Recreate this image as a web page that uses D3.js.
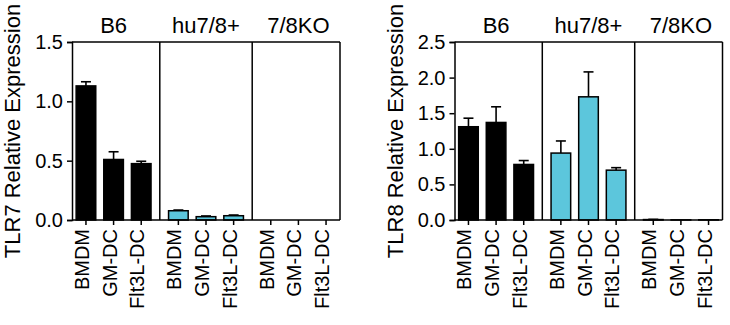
<!DOCTYPE html>
<html>
<head>
<meta charset="utf-8">
<script src="https://cdn.jsdelivr.net/npm/d3@7"></script>
<style>
  body { margin: 0; background: #fff; }
  svg { font-family: "Liberation Sans", Arial, sans-serif; }
</style>
</head>
<body>
<div id="drawing"></div>
<script>
const width = 730;
const height = 325;

// data
const groups = ["B6", "hu7/8+", "7/8KO"];
const cells = ["BMDM", "GM-DC", "Flt3L-DC"];
const groupOf = ["B6", "B6", "B6", "hu7/8+", "hu7/8+", "hu7/8+", "7/8KO", "7/8KO", "7/8KO"];
const tlr7Mean = [1.13, 0.51, 0.475, 0.078, 0.028, 0.036, 0, 0, 0];
const tlr7Err = [0.035, 0.065, 0.02, 0.006, 0.006, 0.006, 0, 0, 0];
const tlr8Mean = [1.31, 1.37, 0.78, 0.94, 1.73, 0.70, 0.006, 0.002, 0.003];
const tlr8Err = [0.12, 0.22, 0.055, 0.17, 0.35, 0.035, 0.003, 0, 0];
const tlr7Ticks = [0, 0.5, 1.0, 1.5];
const tlr8Ticks = [0, 0.5, 1.0, 1.5, 2.0, 2.5];

const black = "#000";
const cyan = "#5cc6dc";

let svg = d3.select("#drawing").append("svg")
  .attr("width", width)
  .attr("height", height);

function drawPanel(left, title, means, errs, yMax, yTicks) {
  const plotW = 268;
  const top = 42;
  const bottom = 220;

  const g = svg.append("g").attr("transform", `translate(${left},0)`);

  const yScale = d3.scaleLinear().domain([0, yMax]).range([bottom, top]);
  const groupScale = d3.scaleBand().domain(groups).range([0, plotW])
    .paddingInner(0.1).paddingOuter(0);
  const cellScale = d3.scaleBand().domain(cells).range([0, groupScale.bandwidth()])
    .paddingInner(0.29).paddingOuter(0.15);

  const rows = means.map((m, i) => ({
    group: groupOf[i],
    cell: cells[i % 3],
    mean: m,
    err: errs[i]
  }));
  const xOf = (d) => groupScale(d.group) + cellScale(d.cell);
  const bw = cellScale.bandwidth();

  // bars
  g.selectAll(".bar")
    .data(rows)
    .enter()
    .append("rect")
      .attr("class", "bar")
      .attr("x", xOf)
      .attr("y", (d) => yScale(d.mean))
      .attr("width", bw)
      .attr("height", (d) => yScale(0) - yScale(d.mean))
      .style("fill", (d) => d.group === "B6" ? black : cyan)
      .style("stroke", black)
      .style("stroke-width", 1.5);

  // upper error bars
  const eb = g.selectAll(".err")
    .data(rows.filter((d) => d.err > 0))
    .enter()
    .append("g")
      .attr("class", "err")
      .attr("transform", (d) => `translate(${xOf(d) + bw / 2},0)`);
  eb.append("line")
    .attr("y1", (d) => yScale(d.mean))
    .attr("y2", (d) => yScale(d.mean + d.err))
    .style("stroke", black).style("stroke-width", 1.6);
  eb.append("line")
    .attr("x1", -5).attr("x2", 5)
    .attr("y1", (d) => yScale(d.mean + d.err))
    .attr("y2", (d) => yScale(d.mean + d.err))
    .style("stroke", black).style("stroke-width", 1.6);

  // frame: top and right borders, group dividers
  g.append("line")
    .attr("x1", 0).attr("x2", plotW).attr("y1", top).attr("y2", top)
    .style("stroke", black).style("stroke-width", 1.5);
  g.append("line")
    .attr("x1", plotW).attr("x2", plotW).attr("y1", top).attr("y2", bottom)
    .style("stroke", black).style("stroke-width", 1.5);
  const gap = groupScale.step() * groupScale.paddingInner();
  g.selectAll(".divider")
    .data(groups.slice(1))
    .enter()
    .append("line")
      .attr("class", "divider")
      .attr("x1", (d) => groupScale(d) - gap / 2)
      .attr("x2", (d) => groupScale(d) - gap / 2)
      .attr("y1", top).attr("y2", bottom)
      .style("stroke", black).style("stroke-width", 1.5);

  // group labels
  g.selectAll(".groupLabel")
    .data(groups)
    .enter()
    .append("text")
      .attr("class", "groupLabel")
      .attr("x", (d) => groupScale(d) + groupScale.bandwidth() / 2)
      .attr("y", 33)
      .attr("text-anchor", "middle")
      .style("font-size", "22px")
      .text((d) => d);

  // y axis
  const yAxis = g.append("g")
    .call(d3.axisLeft(yScale).tickValues(yTicks).tickSize(5).tickPadding(4).tickFormat(d3.format(".1f")));
  yAxis.select(".domain").style("stroke-width", 1.5);
  yAxis.selectAll(".tick line").style("stroke-width", 1.5);
  yAxis.selectAll("text").style("font-size", "20px").style("font-family", "Liberation Sans, Arial, sans-serif").attr("fill", black);

  // x axis, one tick per bar
  const xAxis = g.append("g").attr("transform", `translate(0,${bottom})`);
  xAxis.append("line")
    .attr("x1", 0).attr("x2", plotW)
    .style("stroke", black).style("stroke-width", 1.5);
  const xt = xAxis.selectAll(".xtick")
    .data(rows)
    .enter()
    .append("g")
      .attr("class", "xtick")
      .attr("transform", (d) => `translate(${xOf(d) + bw / 2},0)`);
  xt.append("line").attr("y2", 5).style("stroke", black).style("stroke-width", 1.5);
  xt.append("text")
    .attr("transform", "translate(3,9) rotate(-90)")
    .attr("text-anchor", "end")
    .style("font-size", "20px")
    .text((d) => d.cell);

  // y title
  g.append("text")
    .attr("transform", `translate(-52,131) rotate(-90)`)
    .attr("text-anchor", "middle")
    .style("font-size", "22px")
    .text(title);
}

drawPanel(72, "TLR7 Relative Expression", tlr7Mean, tlr7Err, 1.5, tlr7Ticks);
drawPanel(454.5, "TLR8 Relative Expression", tlr8Mean, tlr8Err, 2.5, tlr8Ticks);
</script>
</body>
</html>
